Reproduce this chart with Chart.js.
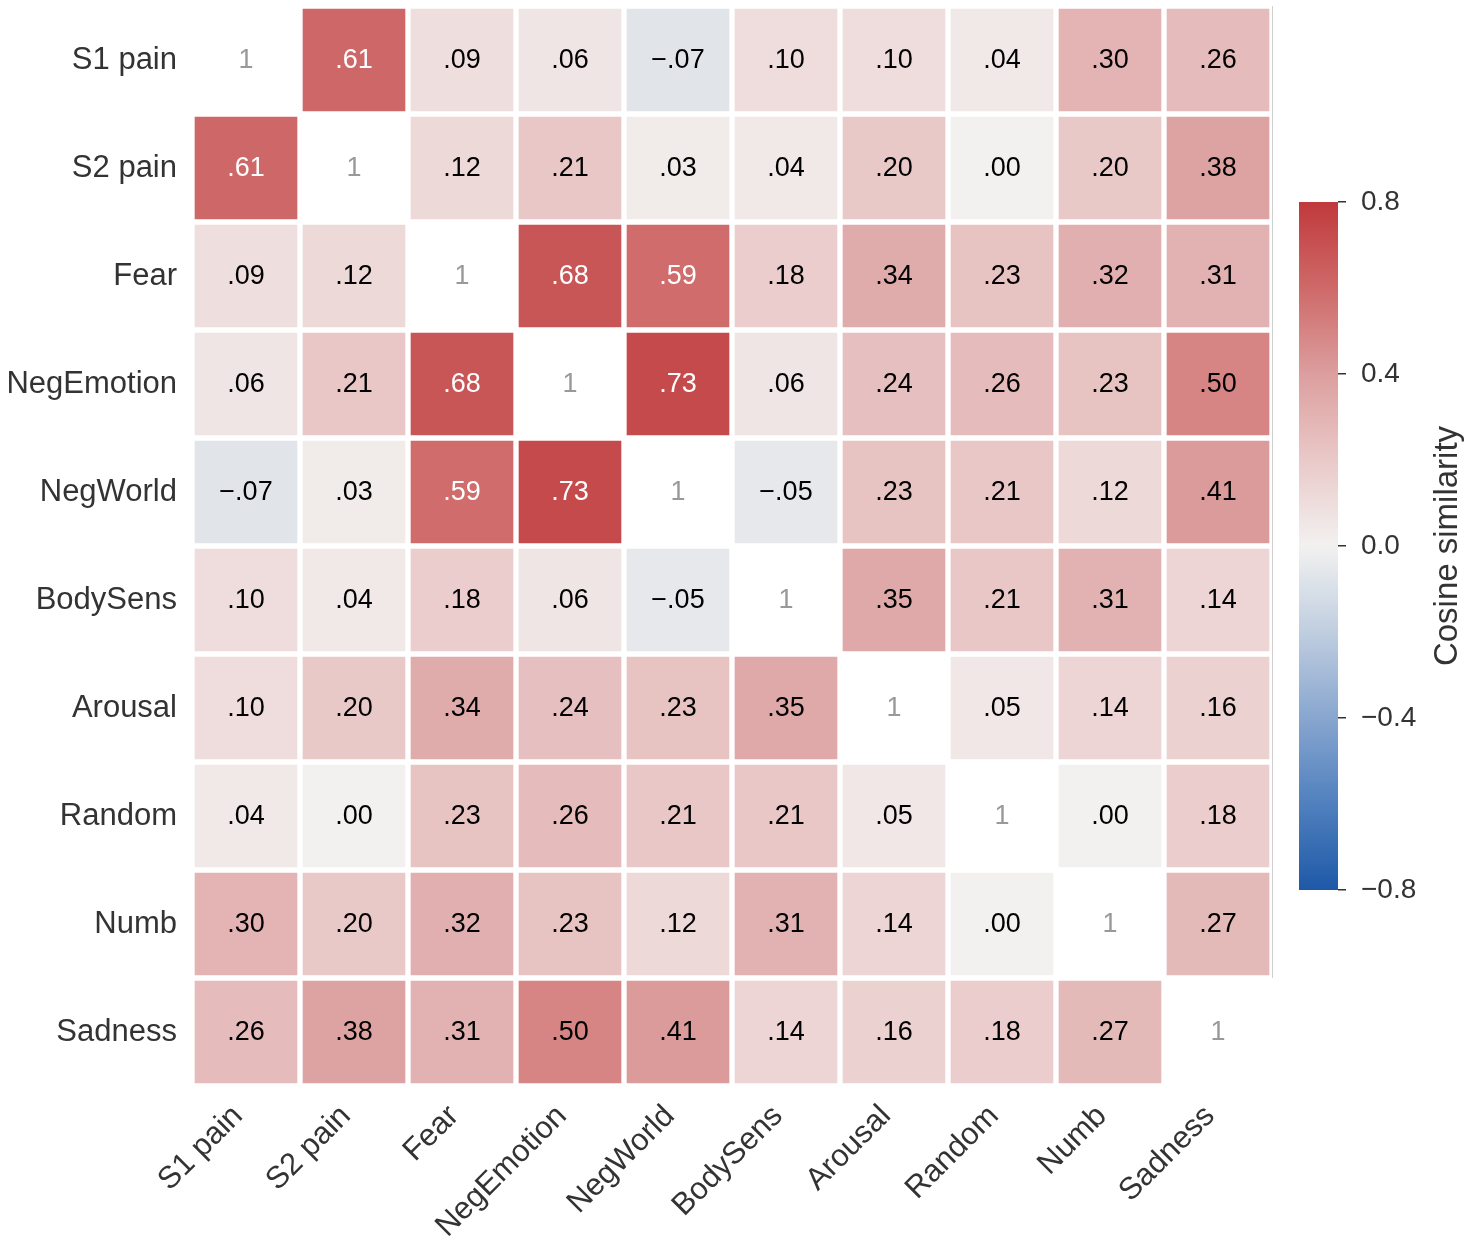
<!DOCTYPE html>
<html>
<head>
<meta charset="utf-8">
<script src="https://cdn.jsdelivr.net/npm/chart.js@4.4.1/dist/chart.umd.min.js"></script>
<style>
  body { margin: 0; background: #fff; }
  #wrap { position: relative; width: 1471px; height: 1249px; }
  #main { position: absolute; left: 0; top: 0; }
  #cbar { position: absolute; left: 1290px; top: 0; }
</style>
</head>
<body>
<div id="wrap">
  <canvas id="main" width="1290" height="1249"></canvas>
  <canvas id="cbar" width="181" height="1249"></canvas>
</div>
<script>
// etiquetas de filas y columnas
const etiquetas = ['S1 pain', 'S2 pain', 'Fear', 'NegEmotion', 'NegWorld', 'BodySens', 'Arousal', 'Random', 'Numb', 'Sadness'];

// una fila de la matriz por categoria
const filaS1 = [1, .61, .09, .06, -.07, .10, .10, .04, .30, .26];
const filaS2 = [.61, 1, .12, .21, .03, .04, .20, .00, .20, .38];
const filaFear = [.09, .12, 1, .68, .59, .18, .34, .23, .32, .31];
const filaNegEmotion = [.06, .21, .68, 1, .73, .06, .24, .26, .23, .50];
const filaNegWorld = [-.07, .03, .59, .73, 1, -.05, .23, .21, .12, .41];
const filaBodySens = [.10, .04, .18, .06, -.05, 1, .35, .21, .31, .14];
const filaArousal = [.10, .20, .34, .24, .23, .35, 1, .05, .14, .16];
const filaRandom = [.04, .00, .23, .26, .21, .21, .05, 1, .00, .18];
const filaNumb = [.30, .20, .32, .23, .12, .31, .14, .00, 1, .27];
const filaSadness = [.26, .38, .31, .50, .41, .14, .16, .18, .27, 1];
const matriz = [filaS1, filaS2, filaFear, filaNegEmotion, filaNegWorld, filaBodySens, filaArousal, filaRandom, filaNumb, filaSadness];

// escala de color
const colorTicks = [-0.8, -0.4, 0, 0.4, 0.8];
const vmin = -0.8, vmax = 0.8;
const stopVals = [-0.8, -0.6, -0.4, -0.2, 0, 0.2, 0.4, 0.6, 0.8];
const stopCols = [[30, 89, 168], [80, 128, 190], [136, 166, 207], [192, 206, 224], [242, 241, 240],
                  [233, 201, 200], [220, 158, 158], [207, 105, 105], [192, 57, 60]];

function colorRGB(v) {
    v = Math.max(vmin, Math.min(vmax, v));
    for (let i = 0; i < stopVals.length - 1; i++) {
        if (v <= stopVals[i + 1]) {
            const t = (v - stopVals[i]) / (stopVals[i + 1] - stopVals[i]);
            return stopCols[i].map((c, k) => Math.round(c + (stopCols[i + 1][k] - c) * t));
        }
    }
    return stopCols[stopCols.length - 1];
}
function colorCss(v) {
    const c = colorRGB(v);
    return `rgb(${c[0]},${c[1]},${c[2]})`;
}
function formato(v) {
    return (v < 0 ? '\u2212' : '') + Math.abs(v).toFixed(2).replace(/^0/, '');
}

const n = etiquetas.length;
const fuente = 'Liberation Sans, Arial, Helvetica, sans-serif';

// un dataset por fila, barras flotantes sobre la misma categoria
const datasets = matriz.map((fila, r) => ({
    data: fila.map(() => [n - 1 - r, n - r]),
    backgroundColor: fila.map((v, j) => j === r ? '#ffffff' : colorCss(v)),
    borderColor: '#ffffff',
    borderWidth: 3,
    borderSkipped: false,
    grouped: false,
    barPercentage: 1,
    categoryPercentage: 1
}));

// textos dentro de cada celda + linea gris del borde
const textoCeldas = {
    id: 'textoCeldas',
    afterDatasetsDraw(chart) {
        const ctx = chart.ctx;
        ctx.save();
        ctx.font = `27px ${fuente}`;
        ctx.textAlign = 'center';
        ctx.textBaseline = 'middle';
        matriz.forEach((fila, r) => {
            const meta = chart.getDatasetMeta(r);
            fila.forEach((v, j) => {
                const bar = meta.data[j];
                const cx = bar.x;
                const cy = (bar.y + bar.base) / 2;
                let txt, col;
                if (j === r) { txt = '1'; col = '#999999'; }
                else {
                    txt = formato(v);
                    col = v > 0.55 ? '#ffffff' : '#000000';
                }
                ctx.fillStyle = col;
                ctx.fillText(txt, cx, cy + 1);
            });
        });
        const ys = chart.scales.y;
        const xr = chart.chartArea.right;
        ctx.strokeStyle = '#d0d0d0';
        ctx.lineWidth = 1;
        ctx.beginPath();
        ctx.moveTo(xr + 0.5, ys.getPixelForValue(n));
        ctx.lineTo(xr + 0.5, ys.getPixelForValue(1));
        ctx.stroke();
        ctx.restore();
    }
};

new Chart(document.getElementById('main').getContext('2d'), {
    type: 'bar',
    data: { labels: etiquetas, datasets: datasets },
    options: {
        responsive: false,
        animation: false,
        layout: { padding: { top: 6, right: 18, left: 0, bottom: 0 } },
        plugins: { legend: { display: false }, tooltip: { enabled: false } },
        scales: {
            x: {
                grid: { display: false, drawTicks: false },
                border: { display: false },
                ticks: {
                    color: '#333333',
                    font: { size: 31, family: fuente },
                    maxRotation: 45,
                    minRotation: 45,
                    padding: 12,
                    labelOffset: -8,
                    autoSkip: false
                },
                afterFit(scale) {
                    scale.height = 163;
                    scale.paddingLeft = 0;
                    scale.paddingRight = 0;
                }
            },
            y: {
                min: 0,
                max: n,
                grid: { display: false, drawTicks: false },
                border: { display: false },
                afterBuildTicks(scale) {
                    scale.ticks = etiquetas.map((_, i) => ({ value: n - 0.5 - i }));
                },
                ticks: {
                    color: '#333333',
                    font: { size: 31, family: fuente },
                    padding: 15,
                    callback: (val) => etiquetas[Math.round(n - 0.5 - val)]
                },
                afterFit(scale) {
                    scale.width = 192;
                    scale.paddingTop = 0;
                    scale.paddingBottom = 0;
                }
            }
        }
    },
    plugins: [textoCeldas]
});

// barra de color
const gradiente = {
    id: 'gradiente',
    beforeDatasetsDraw(chart) {
        const ctx = chart.ctx;
        const a = chart.chartArea;
        const ys = chart.scales.y;
        const g = ctx.createLinearGradient(0, ys.getPixelForValue(vmin), 0, ys.getPixelForValue(vmax));
        stopVals.forEach((v, i) => {
            const c = stopCols[i];
            g.addColorStop((v - vmin) / (vmax - vmin), `rgb(${c[0]},${c[1]},${c[2]})`);
        });
        ctx.save();
        ctx.fillStyle = g;
        ctx.fillRect(a.left, a.top, a.right - a.left, a.bottom - a.top);
        // titulo girado
        ctx.fillStyle = '#333333';
        ctx.font = `33px ${fuente}`;
        ctx.textAlign = 'center';
        ctx.textBaseline = 'middle';
        ctx.translate(158, (a.top + a.bottom) / 2);
        ctx.rotate(-Math.PI / 2);
        ctx.fillText('Cosine similarity', 0, 0);
        ctx.restore();
    }
};

new Chart(document.getElementById('cbar').getContext('2d'), {
    type: 'bar',
    data: { labels: [''], datasets: [{ data: [] }] },
    options: {
        responsive: false,
        animation: false,
        layout: { padding: { top: 202, left: 9, right: 0, bottom: 0 } },
        plugins: { legend: { display: false }, tooltip: { enabled: false } },
        scales: {
            x: {
                display: true,
                grid: { display: false, drawTicks: false },
                border: { display: false },
                ticks: { display: false },
                afterFit(scale) { scale.height = 359; }
            },
            y: {
                position: 'right',
                min: vmin,
                max: vmax,
                afterBuildTicks(scale) {
                    scale.ticks = colorTicks.map(v => ({ value: v }));
                },
                grid: { drawOnChartArea: false, drawTicks: true, tickLength: 8, color: '#333333', lineWidth: 1.5 },
                border: { display: false },
                ticks: {
                    color: '#333333',
                    font: { size: 28, family: fuente },
                    padding: 15,
                    callback: (v) => (v < 0 ? '\u2212' : '') + Math.abs(v).toFixed(1)
                },
                afterFit(scale) {
                    scale.width = 133;
                    scale.paddingTop = 0;
                    scale.paddingBottom = 0;
                }
            }
        }
    },
    plugins: [gradiente]
});
</script>
</body>
</html>
